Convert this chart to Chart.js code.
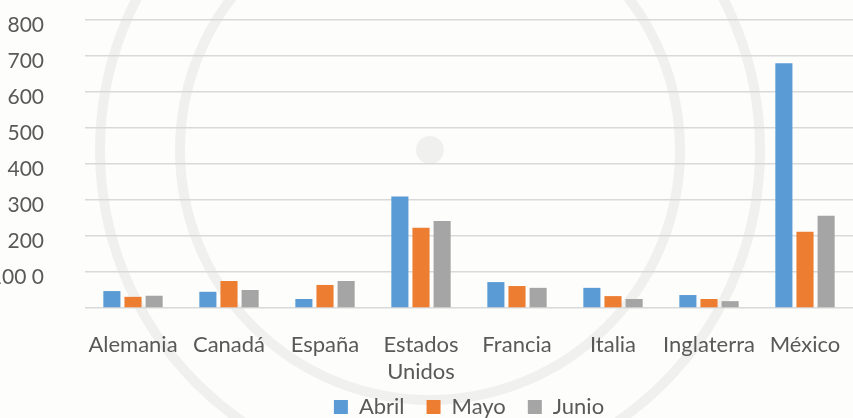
<!DOCTYPE html>
<html>
<head>
<meta charset="utf-8">
<script src="https://cdn.jsdelivr.net/npm/chart.js@4.4.0/dist/chart.umd.min.js"></script>
<style>
  html, body { margin: 0; padding: 0; background: #fdfdfc; }
  #wrap { width: 853px; height: 418px; }
</style>
</head>
<body>
<div id="wrap"><canvas id="ventasChart" width="853" height="418"></canvas></div>
<script>
// Categories and monthly values
const paises = ["Alemania", "Canadá", "España", ["Estados", "Unidos"], "Francia", "Italia", "Inglaterra", "México"];
const abril = [47, 45, 25, 310, 72, 56, 36, 680];
const mayo = [31, 75, 64, 223, 61, 33, 25, 212];
const junio = [34, 50, 75, 242, 56, 25, 19, 256];
// y tick labels as they appear in the reference (100 and 0 got merged)
const yTicks = { 800: "800", 700: "700", 600: "600", 500: "500", 400: "400", 300: "300", 200: "200", 100: "100 0", 0: "" };

const textGray = "#595959";
const fontFam = "Lato, 'Open Sans', sans-serif";

// faint seal watermark behind the chart
const watermark = {
    id: "watermark",
    beforeDraw(chart) {
        const c = chart.ctx;
        c.save();
        c.fillStyle = "#fdfdfc";
        c.fillRect(0, 0, chart.width, chart.height);
        c.strokeStyle = "rgba(0,0,0,0.05)";
        c.fillStyle = "rgba(0,0,0,0.05)";
        c.lineWidth = 10;
        c.beginPath();
        c.arc(430, 150, 330, 0, Math.PI * 2);
        c.stroke();
        c.beginPath();
        c.arc(430, 150, 250, 0, Math.PI * 2);
        c.stroke();
        c.beginPath();
        c.arc(430, 150, 14, 0, Math.PI * 2);
        c.fill();
        c.restore();
    },
    // let the second line of "Estados Unidos" spill below the axis box
    afterLayout(chart) {
        chart.scales.x.bottom += 25;
    }
};

var ctx = document.getElementById("ventasChart").getContext("2d");
var ventasChart = new Chart(ctx, {
    type: "bar",
    data: {
        labels: paises,
        datasets: [
            { label: "Abril", data: abril, backgroundColor: "#5B9BD5" },
            { label: "Mayo", data: mayo, backgroundColor: "#ED7D31" },
            { label: "Junio", data: junio, backgroundColor: "#A5A5A5" }
        ]
    },
    options: {
        responsive: false,
        animation: false,
        categoryPercentage: 0.66,
        barPercentage: 0.81,
        layout: { padding: { top: 20, left: 0, right: 0, bottom: -10 } },
        plugins: {
            tooltip: { enabled: false },
            legend: {
                position: "bottom",
                fullSize: false,
                labels: {
                    boxWidth: 14,
                    boxHeight: 14,
                    padding: 22,
                    color: textGray,
                    font: { family: fontFam, size: 22 }
                }
            }
        },
        scales: {
            x: {
                grid: { display: false },
                border: { display: false },
                afterFit: function (s) { s.height = 66; s.paddingLeft = 0; s.paddingRight = 0; },
                ticks: { color: textGray, font: { family: fontFam, size: 22, lineHeight: 1.25 }, padding: 15, maxRotation: 0 }
            },
            y: {
                min: 0,
                max: 800,
                border: { display: false },
                grid: { color: "#d9d9d9", lineWidth: 1.5, drawTicks: false },
                afterFit: function (s) { s.width = 85; s.paddingTop = 0; s.paddingBottom = 0; },
                ticks: {
                    stepSize: 100,
                    padding: 41,
                    labelOffset: 5,
                    color: textGray,
                    font: { family: fontFam, size: 21 },
                    callback: function (v) { return yTicks[v]; }
                }
            }
        }
    },
    plugins: [watermark]
});
</script>
</body>
</html>
